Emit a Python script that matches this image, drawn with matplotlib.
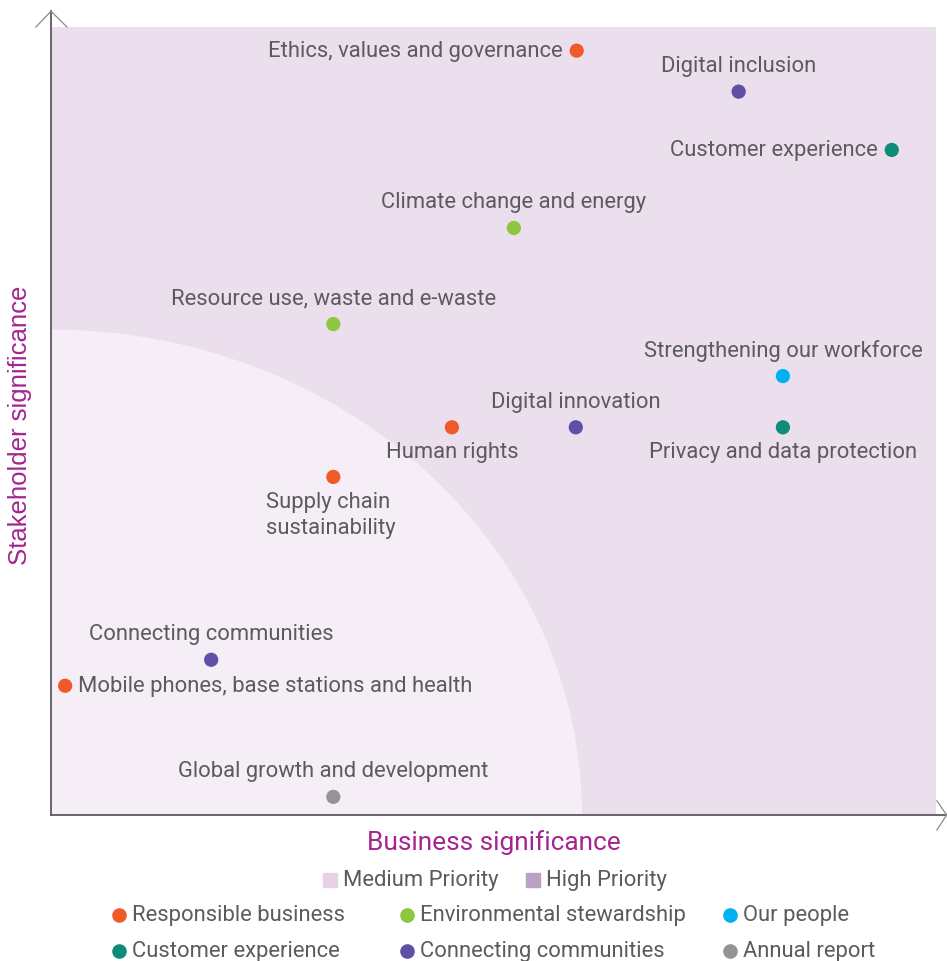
import matplotlib
matplotlib.use("Agg")
import matplotlib.pyplot as plt
from matplotlib.patches import Ellipse, Rectangle
from matplotlib.lines import Line2D

plt.rcParams['font.family'] = ['Roboto', 'DejaVu Sans']

# ---- data ----
topics = ["Ethics, values and governance", "Digital inclusion", "Customer experience",
          "Climate change and energy", "Resource use, waste and e-waste",
          "Strengthening our workforce", "Human rights", "Digital innovation",
          "Privacy and data protection", "Supply chain\nsustainability",
          "Connecting communities", "Mobile phones, base stations and health",
          "Global growth and development"]
business = [59.4, 77.7, 95.0, 52.3, 31.9, 82.7, 45.3, 59.3, 82.7, 31.9, 18.1, 1.6, 31.9]
stakeholder = [97.0, 91.8, 84.4, 74.5, 62.3, 55.7, 49.2, 49.2, 49.2, 42.9, 19.7, 16.4, 2.3]
group = ["Responsible business", "Connecting communities", "Customer experience",
         "Environmental stewardship", "Environmental stewardship", "Our people",
         "Responsible business", "Connecting communities", "Customer experience",
         "Responsible business", "Connecting communities", "Responsible business",
         "Annual report"]
label_pos = ["left", "above", "left", "above", "above", "above", "below", "above",
             "below", "below2", "above", "right", "above"]

groups = ["Responsible business", "Environmental stewardship", "Our people",
          "Customer experience", "Connecting communities", "Annual report"]
group_colors = ["#F05A28", "#8DC63F", "#00B0F0", "#0E8C7A", "#5F4FA6", "#949494"]
priority_labels = ["Medium Priority", "High Priority"]
priority_legend_colors = ["#E8D0E6", "#B9A2C5"]
priority_fill_colors = ["#F6EEF6", "#EBDEED"]
medium_radius = (60.0, 61.6)  # x, y radius in data units

W, H = 947, 962
DY = 2  # small vertical correction in pixels


def fy(py):
    return 1 - (py + DY) / H


fig = plt.figure(figsize=(W / 100, H / 100), dpi=100)
x0, x1, y0, y1 = 51, 936, 814, 26
ax = fig.add_axes([x0 / W, fy(y0), (x1 - x0) / W, (y0 - y1) / H])
ax.set_xlim(0, 100)
ax.set_ylim(0, 100)
ax.axis("off")

ax.add_patch(Rectangle((0, 0), 100, 100, facecolor=priority_fill_colors[1], edgecolor="none", zorder=0))
ax.add_patch(Ellipse((0, 0), 2 * medium_radius[0], 2 * medium_radius[1],
                     facecolor=priority_fill_colors[0], edgecolor="none", zorder=1))

axis_col = "#5A5A5E"
ax.plot([0, 0], [0, 102.0], color=axis_col, lw=1.3, clip_on=False, zorder=3)
ax.plot([0, 101.2], [0, 0], color=axis_col, lw=1.3, clip_on=False, zorder=3)
ax.plot([-1.7, 0, 1.8], [100, 102.0, 100], color="#8A8A8A", lw=0.9, clip_on=False, zorder=3)
ax.plot([100.1, 101.2, 100.1], [1.8, 0, -1.9], color="#8A8A8A", lw=0.9, clip_on=False, zorder=3)

cmap = dict(zip(groups, group_colors))
text_col = "#5B5B5E"
fs = 15.8
for t, bx, sy, g, pos in zip(topics, business, stakeholder, group, label_pos):
    ax.scatter(bx, sy, s=105, color=cmap[g], edgecolors="none", zorder=5, clip_on=False)
    kw = dict(xy=(bx, sy), textcoords="offset points", fontsize=fs, color=text_col)
    if pos == "left":
        ax.annotate(t, xytext=(-10, 0), ha="right", va="center", **kw)
    elif pos == "right":
        ax.annotate(t, xytext=(9, 0), ha="left", va="center", **kw)
    elif pos == "above":
        ax.annotate(t, xytext=(0, 18.7), ha="center", va="center", **kw)
    elif pos == "below":
        ax.annotate(t, xytext=(0, -17.5), ha="center", va="center", **kw)
    else:
        ax.annotate(t, xytext=(-1.5, -27.3), ha="center", va="center",
                    multialignment="left", linespacing=1.3, **kw)

title_col = "#A4258F"
fig.text(494 / W, fy(841), "Business significance", ha="center", va="center",
         fontsize=18.9, color=title_col)
fig.text(20 / W, fy(423), "Stakeholder significance", ha="center", va="center",
         rotation=90, fontsize=18.5, color=title_col, family=["Liberation Sans", "DejaVu Sans"])

# legends (placed manually)
leg_fs = 15.8
for lab, col, px in zip(priority_labels, priority_legend_colors, [330, 533]):
    fig.add_artist(Line2D([px / W], [fy(879)], marker="s", markersize=10.5, color=col, ls="none"))
    fig.text((px + 13) / W, fy(879), lab, ha="left", va="center", fontsize=leg_fs, color=text_col)

col_x = [119, 407, 730]
row_y = [914, 950]
for i, (lab, col) in enumerate(zip(groups, group_colors)):
    px = col_x[i % 3]
    py = row_y[i // 3]
    fig.add_artist(Line2D([px / W], [fy(py)], marker="o", markersize=9.5, color=col, ls="none"))
    fig.text((px + 13) / W, fy(py), lab, ha="left", va="center", fontsize=leg_fs, color=text_col)

fig.savefig("out.png", dpi=100)
